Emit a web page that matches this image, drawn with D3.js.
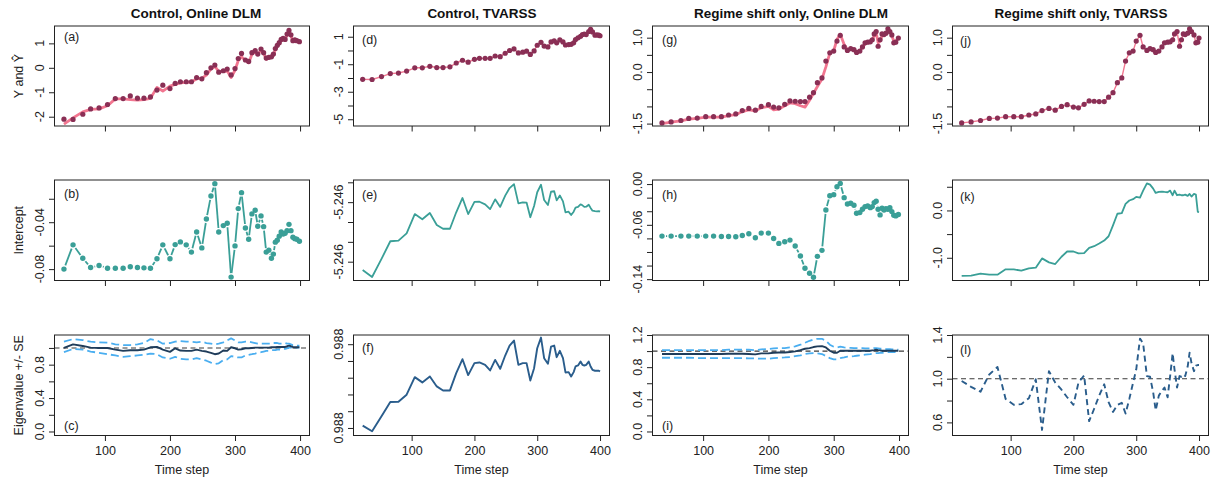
<!DOCTYPE html>
<html>
<head>
<meta charset="utf-8">
<script src="https://cdn.jsdelivr.net/npm/d3@7"></script>
<style>
  html, body { margin: 0; padding: 0; background: #ffffff; }
  svg { display: block; font-family: "Liberation Sans", Arial, Helvetica, sans-serif; }
</style>
</head>
<body>
<svg id="fig" width="1212" height="482"></svg>
<script>
// ---------------- time axes ----------------
const timeDLM = [37,51,66,78,91,104,116,128,139,150,160,170,180,189,200,208,216,225,233,241,249,256,263,269,275,282,288,294,300,305,310,316,321,326,331,335,340,344,348,352,356,359,362,365,368,371,374,377,380,383,386,389,392,395,399];
const timeTV = [22,37,52,66,79,92,105,117,129,140,150,161,171,181,190,200,208,217,225,233,241,249,256,263,270,277,283,289,295,300,306,311,317,322,327,331,336,341,345,350,354,358,361,365,369,372,375,378,382,385,388,392,395,398,400];
const xTicks = [100, 200, 300, 400];

// ---------------- observed series and fits ----------------
const obsControl = [-2.10,-2.11,-1.90,-1.68,-1.64,-1.50,-1.26,-1.26,-1.15,-1.24,-1.24,-1.19,-0.91,-0.71,-0.85,-0.64,-0.57,-0.57,-0.57,-0.40,-0.45,-0.20,0.00,0.11,-0.18,-0.12,-0.05,-0.29,-0.03,0.38,0.59,0.32,0.26,0.62,0.70,0.56,0.77,0.62,0.40,0.43,0.45,0.56,0.79,0.92,1.03,1.16,1.20,1.16,1.38,1.53,1.35,1.11,1.14,1.11,1.07];
const fitControlDLM = [-2.30,-2.05,-1.80,-1.70,-1.68,-1.55,-1.27,-1.27,-1.30,-1.32,-1.30,-1.25,-0.80,-0.95,-0.75,-0.68,-0.62,-0.60,-0.58,-0.45,-0.42,-0.30,-0.05,0.06,-0.15,-0.16,-0.12,-0.40,-0.10,0.30,0.45,0.30,0.20,0.55,0.65,0.55,0.72,0.60,0.35,0.38,0.42,0.50,0.75,0.88,0.98,1.12,1.16,1.15,1.33,1.48,1.30,1.10,1.12,1.10,1.05];
const obsRegime = [-1.48,-1.45,-1.41,-1.35,-1.34,-1.30,-1.30,-1.30,-1.25,-1.22,-1.12,-1.06,-1.11,-1.00,-0.95,-1.02,-1.04,-0.94,-0.84,-0.85,-0.86,-0.86,-0.73,-0.60,-0.31,-0.17,0.32,0.56,0.61,0.90,1.07,0.73,0.63,0.68,0.65,0.57,0.61,0.73,0.85,0.87,0.88,0.94,1.11,1.18,0.75,0.94,1.11,1.09,1.13,1.26,1.18,1.08,0.85,0.87,0.99];
const fitRegimeDLM = [-1.50,-1.46,-1.42,-1.37,-1.35,-1.31,-1.31,-1.31,-1.27,-1.24,-1.15,-1.10,-1.13,-1.04,-1.00,-1.10,-1.08,-0.98,-0.90,-0.92,-0.98,-1.02,-0.82,-0.62,-0.42,-0.20,0.15,0.55,0.62,0.95,1.10,0.80,0.65,0.65,0.66,0.58,0.60,0.72,0.82,0.88,0.88,0.94,1.05,1.15,0.85,0.90,1.05,1.08,1.10,1.22,1.20,1.05,0.90,0.90,0.98];

// ---------------- intercepts ----------------
const interceptB = [-0.0800,-0.0593,-0.0707,-0.0786,-0.0769,-0.0792,-0.0792,-0.0792,-0.0780,-0.0786,-0.0789,-0.0792,-0.0712,-0.0593,-0.0712,-0.0591,-0.0568,-0.0593,-0.0655,-0.0483,-0.0619,-0.0373,-0.0176,-0.0071,-0.0483,-0.0429,-0.0409,-0.0868,-0.0602,-0.0284,-0.0148,-0.0449,-0.0545,-0.0329,-0.0298,-0.0434,-0.0346,-0.0438,-0.0655,-0.0638,-0.0707,-0.0672,-0.0570,-0.0553,-0.0519,-0.0483,-0.0500,-0.0494,-0.0472,-0.0418,-0.0472,-0.0528,-0.0540,-0.0545,-0.0562];
const interceptE = [-5.246442,-5.246477,-5.246386,-5.246297,-5.246294,-5.246257,-5.246160,-5.246186,-5.246155,-5.246215,-5.246234,-5.246234,-5.246151,-5.246079,-5.246160,-5.246099,-5.246098,-5.246111,-5.246135,-5.246086,-5.246124,-5.246067,-5.246029,-5.246009,-5.246106,-5.246101,-5.246102,-5.246176,-5.246119,-5.246050,-5.246012,-5.246089,-5.246114,-5.246047,-5.246045,-5.246091,-5.246066,-5.246096,-5.246151,-5.246148,-5.246165,-5.246148,-5.246128,-5.246124,-5.246111,-5.246116,-5.246124,-5.246123,-5.246113,-5.246129,-5.246143,-5.246145,-5.246146,-5.246145,-5.246148];
const interceptH = [-0.0766,-0.0766,-0.0766,-0.0766,-0.0766,-0.0766,-0.0766,-0.0771,-0.0771,-0.0776,-0.0757,-0.0732,-0.0791,-0.0722,-0.0722,-0.0801,-0.0874,-0.0849,-0.0825,-0.0913,-0.1059,-0.1240,-0.1313,-0.1372,-0.1064,-0.0976,-0.0381,-0.0171,-0.0156,-0.0039,0.0010,-0.0200,-0.0293,-0.0283,-0.0312,-0.0429,-0.0420,-0.0371,-0.0332,-0.0322,-0.0347,-0.0332,-0.0273,-0.0254,-0.0371,-0.0454,-0.0356,-0.0381,-0.0361,-0.0371,-0.0347,-0.0405,-0.0459,-0.0469,-0.0449];
const interceptK = [-1.384,-1.377,-1.335,-1.356,-1.356,-1.244,-1.244,-1.272,-1.223,-1.209,-1.013,-1.097,-1.132,-0.978,-0.867,-0.867,-0.908,-0.901,-0.789,-0.755,-0.699,-0.636,-0.545,-0.314,-0.070,-0.056,0.140,0.210,0.238,0.287,0.273,0.419,0.573,0.545,0.461,0.370,0.391,0.398,0.391,0.384,0.419,0.321,0.419,0.321,0.335,0.321,0.321,0.335,0.307,0.349,0.293,0.349,0.335,-0.028,-0.035];

// ---------------- eigenvalues ----------------
const eigenC = [1.000,1.043,1.024,1.004,1.000,1.000,0.980,0.965,0.973,0.973,0.980,1.008,1.012,0.980,0.953,0.996,0.969,0.965,0.965,0.980,0.965,0.957,0.941,0.925,0.933,0.969,0.965,1.008,0.996,0.980,0.984,0.996,0.996,1.000,1.004,1.004,1.004,1.004,1.004,1.004,1.008,1.008,1.008,1.012,1.012,1.012,1.012,1.012,1.020,1.027,1.020,1.012,1.008,1.008,1.008];
const upperC = [1.075,1.106,1.094,1.075,1.067,1.063,1.043,1.035,1.035,1.043,1.059,1.106,1.090,1.051,1.059,1.075,1.082,1.075,1.075,1.067,1.075,1.059,1.051,1.043,1.051,1.067,1.090,1.114,1.090,1.067,1.067,1.075,1.075,1.067,1.059,1.051,1.051,1.051,1.051,1.051,1.051,1.059,1.059,1.059,1.051,1.051,1.051,1.059,1.051,1.051,1.043,1.035,1.035,1.027,1.027];
const lowerC = [0.949,0.988,0.980,0.957,0.941,0.925,0.910,0.894,0.902,0.910,0.918,0.933,0.925,0.886,0.871,0.894,0.871,0.863,0.863,0.878,0.863,0.847,0.824,0.808,0.816,0.855,0.863,0.902,0.894,0.886,0.886,0.910,0.918,0.925,0.933,0.941,0.949,0.957,0.965,0.965,0.973,0.973,0.973,0.980,0.980,0.980,0.988,0.988,0.996,1.004,1.004,1.004,1.004,1.004,1.004];
const eigenF = [0.9879028,0.9878960,0.9879139,0.9879310,0.9879313,0.9879397,0.9879607,0.9879544,0.9879615,0.9879496,0.9879448,0.9879448,0.9879655,0.9879821,0.9879631,0.9879774,0.9879782,0.9879754,0.9879687,0.9879813,0.9879706,0.9879865,0.9879984,0.9880044,0.9879754,0.9879774,0.9879774,0.9879567,0.9879714,0.9879952,0.9880079,0.9879833,0.9879766,0.9879972,0.9879984,0.9879845,0.9879921,0.9879833,0.9879663,0.9879667,0.9879615,0.9879667,0.9879734,0.9879746,0.9879794,0.9879754,0.9879746,0.9879754,0.9879794,0.9879734,0.9879694,0.9879683,0.9879683,0.9879683,0.9879675];
const eigenI = [0.963,0.963,0.963,0.963,0.963,0.963,0.963,0.963,0.967,0.967,0.967,0.963,0.959,0.971,0.971,0.979,0.983,0.983,0.988,0.996,1.012,1.029,1.037,1.050,1.058,1.062,1.045,1.004,0.979,0.979,1.004,1.004,1.004,1.004,1.004,1.004,1.004,1.004,1.004,1.004,1.004,1.008,1.012,1.017,1.012,1.008,1.004,1.004,1.004,1.004,1.004,1.004,1.004,1.004,1.004];
const upperI = [1.012,1.012,1.012,1.012,1.012,1.012,1.012,1.012,1.017,1.017,1.017,1.017,1.012,1.021,1.025,1.033,1.037,1.037,1.045,1.058,1.079,1.103,1.128,1.145,1.153,1.153,1.128,1.079,1.054,1.045,1.054,1.045,1.041,1.041,1.037,1.037,1.037,1.037,1.033,1.033,1.033,1.033,1.037,1.037,1.033,1.029,1.029,1.029,1.025,1.025,1.025,1.021,1.021,1.017,1.017];
const lowerI = [0.917,0.917,0.917,0.917,0.913,0.913,0.913,0.913,0.913,0.913,0.913,0.909,0.909,0.905,0.905,0.913,0.917,0.921,0.926,0.938,0.946,0.963,0.971,0.975,0.971,0.963,0.938,0.913,0.897,0.897,0.913,0.921,0.930,0.934,0.938,0.942,0.946,0.950,0.955,0.959,0.963,0.967,0.971,0.975,0.975,0.979,0.979,0.983,0.983,0.988,0.988,0.988,0.988,0.988,0.988];
const eigenL = [0.979,0.925,0.881,1.039,1.107,0.815,0.761,0.767,0.821,0.994,0.531,1.069,0.964,0.899,0.830,0.761,0.964,1.030,0.612,0.725,0.845,0.949,0.785,0.696,0.761,0.779,0.681,0.815,0.964,1.084,1.367,1.322,1.024,1.018,0.875,0.710,0.845,0.890,0.919,0.830,1.024,1.233,1.084,0.919,1.024,1.018,1.039,1.024,1.113,1.239,1.143,1.069,1.119,1.125,1.125];

// ---------------- axis tick values and labels ----------------
const ticksA = [-2,-1,0,1],             labelsA = ["-2","-1","0","1"];
const ticksD = [-5,-4,-3,-2,-1,0,1],    labelsD = ["-5","","-3","","-1","","1"];
const ticksG = [-1.5,-1,-0.5,0,0.5,1],  labelsG = ["-1.5","","","0.0","","1.0"];
const ticksB = [-0.08,-0.06,-0.04,-0.02], labelsB = ["-0.08","","-0.04",""];
const ticksE = [-5.2464,-5.2463,-5.2462,-5.2461,-5.2460], labelsE = ["-5.246","","","-5.246",""];
const ticksH = [-0.14,-0.12,-0.10,-0.08,-0.06,-0.04,-0.02,0], labelsH = ["-0.14","","","","-0.06","","","0.00"];
const ticksK = [-1,-0.5,0,0.5],         labelsK = ["-1.0","","0.0",""];
const ticksC = [0,0.2,0.4,0.6,0.8,1.0], labelsC = ["0.0","","0.4","","0.8",""];
const ticksF = [0.98790,0.98792,0.98794,0.98796,0.98798,0.98800], labelsF = ["0.988","","","","","0.988"];
const ticksI = [0,0.2,0.4,0.6,0.8,1.0,1.2], labelsI = ["0.0","","0.4","","0.8","","1.2"];
const ticksL = [0.6,0.8,1.0,1.2,1.4],   labelsL = ["0.6","","1.0","","1.4"];

const columnTitles = ["Control, Online DLM", "Control, TVARSS", "Regime shift only, Online DLM", "Regime shift only, TVARSS"];
const rowTitles = ["Y and \u0176", "Intercept", "Eigenvalue +/- SE"];

// ---------------- styling ----------------
const COL = {
  point: "#8a2f55",
  fit: "#f27690",
  teal: "#3a9f97",
  navy: "#2a5d8c",
  dark: "#1f3c5a",
  se: "#4aaef0",
  ref: "#3a3a3a",
  frame: "#222222",
  text: "#222222"
};

const svg = d3.select("#fig");
const cols = [{x0: 54.5, x1: 309.5}, {x0: 353.5, x1: 609.5}, {x0: 652.5, x1: 908.5}, {x0: 952.5, x1: 1208.5}];
const rows = [{y0: 26, y1: 126}, {y0: 180, y1: 280.5}, {y0: 335, y1: 435.5}];
const domDLM = [22.48, 414.52];
const domTV = [7.4, 415.1];

let clipId = 0;
function panel(o) {
  const c = cols[o.col], r = rows[o.row];
  const x = d3.scaleLinear().domain(o.xDomain).range([c.x0, c.x1]);
  const y = d3.scaleLinear().domain(o.yDomain).range([r.y1, r.y0]);
  const g = svg.append("g");
  const id = "clip" + (clipId++);
  g.append("clipPath").attr("id", id).append("rect")
    .attr("x", c.x0).attr("y", r.y0).attr("width", c.x1 - c.x0).attr("height", r.y1 - r.y0);
  const plot = g.append("g").attr("clip-path", `url(#${id})`);

  // y axis ticks
  const ya = g.append("g").attr("transform", `translate(${c.x0},0)`)
    .call(d3.axisLeft(y).tickValues(o.yTicks).tickSize(5.5).tickFormat(""));
  ya.select(".domain").remove();
  ya.selectAll(".tick line").attr("stroke", COL.frame);
  g.selectAll(null).data(o.yTicks.map((t, i) => ({t, s: o.yLabels[i]})).filter(d => d.s !== ""))
    .join("text")
    .attr("transform", d => `translate(${c.x0 - 11},${y(d.t)}) rotate(-90)`)
    .attr("text-anchor", "middle")
    .attr("font-size", 12.5).attr("fill", COL.text)
    .text(d => d.s);

  // x axis ticks
  const xa = g.append("g").attr("transform", `translate(0,${r.y1})`)
    .call(d3.axisBottom(x).tickValues(xTicks).tickSize(5.5).tickPadding(5)
      .tickFormat(o.row === 2 ? d3.format("d") : ""));
  xa.select(".domain").remove();
  xa.selectAll(".tick line").attr("stroke", COL.frame);
  xa.selectAll(".tick text").attr("font-size", 12.5).attr("fill", COL.text)
    .attr("font-family", "Liberation Sans, Arial, sans-serif");

  // frame
  g.append("rect").attr("x", c.x0).attr("y", r.y0)
    .attr("width", c.x1 - c.x0).attr("height", r.y1 - r.y0)
    .attr("fill", "none").attr("stroke", COL.frame).attr("stroke-width", 1);

  // panel tag
  g.append("text").attr("x", o.tagX).attr("y", o.tagY)
    .attr("font-size", 12.5).attr("fill", COL.text).text(o.tag);

  return {x, y, plot, c, r};
}

function drawLine(p, xs, ys, color, width, dash) {
  const line = d3.line().x((d, i) => p.x(xs[i])).y(d => p.y(d));
  p.plot.append("path").datum(ys).attr("d", line)
    .attr("fill", "none").attr("stroke", color).attr("stroke-width", width)
    .attr("stroke-linejoin", "round").attr("stroke-linecap", "butt")
    .attr("stroke-dasharray", dash || null);
}

function drawPoints(p, xs, ys, color, rad) {
  p.plot.selectAll(null).data(ys).join("circle")
    .attr("cx", (d, i) => p.x(xs[i])).attr("cy", d => p.y(d))
    .attr("r", rad).attr("fill", color);
}

// lines joining consecutive points, stopping short of each point
function drawGapped(p, xs, ys, color, width, gap) {
  const segs = [];
  for (let i = 0; i < ys.length - 1; i++) {
    const ax = p.x(xs[i]), ay = p.y(ys[i]), bx = p.x(xs[i + 1]), by = p.y(ys[i + 1]);
    const L = Math.hypot(bx - ax, by - ay);
    if (L > 2 * gap) {
      const ux = (bx - ax) / L, uy = (by - ay) / L;
      segs.push([ax + ux * gap, ay + uy * gap, bx - ux * gap, by - uy * gap]);
    }
  }
  p.plot.selectAll(null).data(segs).join("line")
    .attr("x1", d => d[0]).attr("y1", d => d[1]).attr("x2", d => d[2]).attr("y2", d => d[3])
    .attr("stroke", color).attr("stroke-width", width);
}

function refLine(p, v) {
  p.plot.append("line").attr("x1", p.c.x0).attr("x2", p.c.x1)
    .attr("y1", p.y(v)).attr("y2", p.y(v))
    .attr("stroke", COL.ref).attr("stroke-width", 1.1).attr("stroke-dasharray", "5,3.5");
}

// ---------------- row 1: observed and fitted ----------------
const pA = panel({col: 0, row: 0, xDomain: domDLM, yDomain: [-2.38, 1.71], yTicks: ticksA, yLabels: labelsA, tag: "(a)", tagX: 64, tagY: 41});
drawLine(pA, timeDLM, fitControlDLM, COL.fit, 2.8);
drawPoints(pA, timeDLM, obsControl, COL.point, 2.6);

const pD = panel({col: 1, row: 0, xDomain: domTV, yDomain: [-5.49, 1.78], yTicks: ticksD, yLabels: labelsD, tag: "(d)", tagX: 362, tagY: 44});
drawLine(pD, timeTV, obsControl, COL.fit, 1.4);
drawPoints(pD, timeTV, obsControl, COL.point, 2.6);

const pG = panel({col: 2, row: 0, xDomain: domDLM, yDomain: [-1.57, 1.34], yTicks: ticksG, yLabels: labelsG, tag: "(g)", tagX: 662, tagY: 44});
drawLine(pG, timeDLM, fitRegimeDLM, COL.fit, 2.8);
drawPoints(pG, timeDLM, obsRegime, COL.point, 2.6);

const pJ = panel({col: 3, row: 0, xDomain: domTV, yDomain: [-1.57, 1.34], yTicks: ticksG, yLabels: labelsG, tag: "(j)", tagX: 960, tagY: 45});
drawLine(pJ, timeTV, obsRegime, COL.fit, 1.4);
drawPoints(pJ, timeTV, obsRegime, COL.point, 2.6);

// ---------------- row 2: intercepts ----------------
const pB = panel({col: 0, row: 1, xDomain: domDLM, yDomain: [-0.0897, -0.004], yTicks: ticksB, yLabels: labelsB, tag: "(b)", tagX: 64, tagY: 198});
drawGapped(pB, timeDLM, interceptB, COL.teal, 1.8, 4);
drawPoints(pB, timeDLM, interceptB, COL.teal, 2.7);

const pE = panel({col: 1, row: 1, xDomain: domTV, yDomain: [-5.2464947, -5.2459884], yTicks: ticksE, yLabels: labelsE, tag: "(e)", tagX: 362, tagY: 199});
drawLine(pE, timeTV, interceptE, COL.teal, 1.8);

const pH = panel({col: 2, row: 1, xDomain: domDLM, yDomain: [-0.142, 0.006], yTicks: ticksH, yLabels: labelsH, tag: "(h)", tagX: 662, tagY: 199});
drawGapped(pH, timeDLM, interceptH, COL.teal, 1.8, 4);
drawPoints(pH, timeDLM, interceptH, COL.teal, 2.7);

const pK = panel({col: 3, row: 1, xDomain: domTV, yDomain: [-1.48, 0.643], yTicks: ticksK, yLabels: labelsK, tag: "(k)", tagX: 960, tagY: 201});
drawLine(pK, timeTV, interceptK, COL.teal, 1.8);

// ---------------- row 3: eigenvalues ----------------
const pC = panel({col: 0, row: 2, xDomain: domDLM, yDomain: [-0.048, 1.155], yTicks: ticksC, yLabels: labelsC, tag: "(c)", tagX: 64, tagY: 430});
refLine(pC, 1);
drawLine(pC, timeDLM, upperC, COL.se, 1.8, "8,4");
drawLine(pC, timeDLM, lowerC, COL.se, 1.8, "8,4");
drawLine(pC, timeDLM, eigenC, COL.dark, 1.9);

const pF = panel({col: 1, row: 2, xDomain: domTV, yDomain: [0.987891, 0.988011], yTicks: ticksF, yLabels: labelsF, tag: "(f)", tagX: 362, tagY: 352});
drawLine(pF, timeTV, eigenF, COL.navy, 1.9);

const pI = panel({col: 2, row: 2, xDomain: domDLM, yDomain: [-0.05, 1.2], yTicks: ticksI, yLabels: labelsI, tag: "(i)", tagX: 662, tagY: 430});
refLine(pI, 1);
drawLine(pI, timeDLM, upperI, COL.se, 1.8, "8,4");
drawLine(pI, timeDLM, lowerI, COL.se, 1.8, "8,4");
drawLine(pI, timeDLM, eigenI, COL.dark, 1.9);

const pL = panel({col: 3, row: 2, xDomain: domTV, yDomain: [0.48, 1.40], yTicks: ticksL, yLabels: labelsL, tag: "(l)", tagX: 960, tagY: 354});
refLine(pL, 1);
drawLine(pL, timeTV, eigenL, COL.navy, 1.9, "6,4");

// ---------------- titles and axis names ----------------
const titleX = [196, 482, 791, 1081];
svg.selectAll(null).data(columnTitles).join("text")
  .attr("x", (d, i) => titleX[i]).attr("y", 17.5)
  .attr("text-anchor", "middle").attr("font-weight", "bold")
  .attr("font-size", 13.5).attr("fill", "#111").text(d => d);

svg.selectAll(null).data(rowTitles).join("text")
  .attr("transform", (d, i) => `translate(22.5,${(rows[i].y0 + rows[i].y1) / 2}) rotate(-90)`)
  .attr("text-anchor", "middle").attr("font-size", 12.5).attr("fill", COL.text).text(d => d);

svg.selectAll(null).data(cols).join("text")
  .attr("x", d => (d.x0 + d.x1) / 2).attr("y", 474)
  .attr("text-anchor", "middle").attr("font-size", 12.5).attr("fill", COL.text).text("Time step");
</script>
</body>
</html>
